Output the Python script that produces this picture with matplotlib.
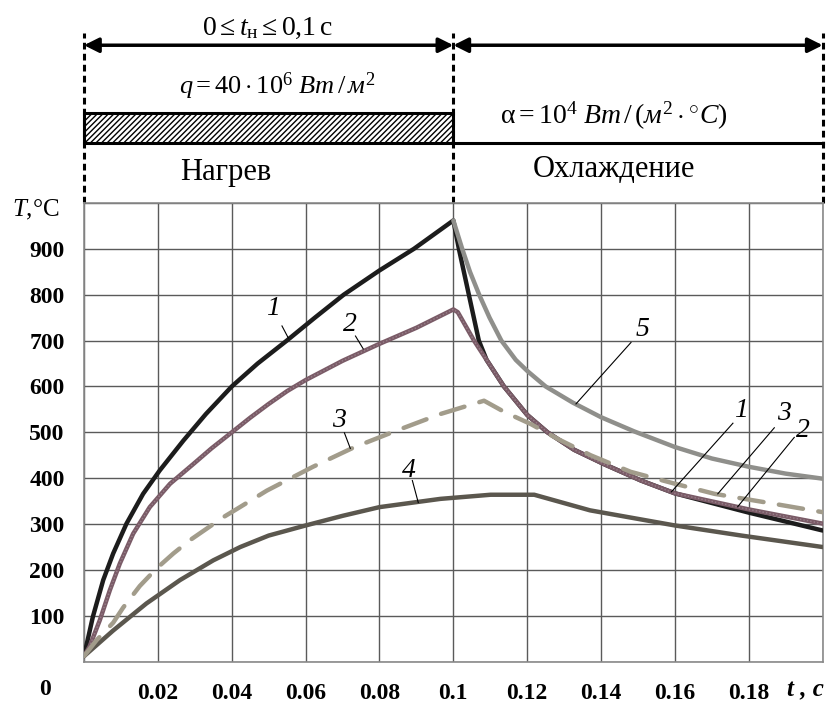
import numpy as np
import matplotlib
matplotlib.use('Agg')
from matplotlib import pyplot as plt
from matplotlib.patches import Rectangle

plt.rcParams['font.family'] = ['Liberation Serif', 'DejaVu Serif']
plt.rcParams['mathtext.fontset'] = 'custom'
plt.rcParams['mathtext.rm'] = 'Liberation Serif'
plt.rcParams['mathtext.it'] = 'Liberation Serif:italic'
plt.rcParams['mathtext.bf'] = 'Liberation Serif:bold'
plt.rcParams['hatch.linewidth'] = 1.0

# curve 1 (black)
t1 = [0, 0.0024, 0.0052, 0.0079, 0.0115, 0.016, 0.0205, 0.0269, 0.033, 0.04,
      0.047, 0.0549, 0.0625, 0.0703, 0.08, 0.0893, 0.1,
      0.1015, 0.1042, 0.1069, 0.109, 0.1137, 0.12, 0.1255, 0.1327, 0.141,
      0.1508, 0.16, 0.18, 0.2]
T1 = [12, 98, 178, 236, 301, 366, 417, 482, 540, 600,
      650, 700, 750, 800, 853, 900, 962,
      900, 800, 700, 658, 600, 538, 500, 462, 430,
      395, 367, 325, 286]

# curve 2 (purple)
t2 = [0, 0.0015, 0.0043, 0.007, 0.0097, 0.0133, 0.0178, 0.0233, 0.0296, 0.0345,
      0.04, 0.045, 0.05, 0.055, 0.06, 0.07, 0.08, 0.09, 0.1, 0.1012,
      0.1056, 0.109, 0.1137, 0.12, 0.1255, 0.1327, 0.141, 0.1508, 0.16, 0.18, 0.2]
T2 = [12, 33, 91, 156, 214, 279, 337, 388, 431, 465,
      500, 532, 562, 590, 614, 656, 693, 728, 768, 762,
      700, 658, 600, 538, 500, 462, 430, 395, 367, 332, 301]

# curve 3 (dashed)
t3 = [0, 0.0034, 0.0079, 0.0106, 0.0151, 0.0196, 0.0242, 0.0287, 0.0377, 0.0414,
      0.0495, 0.062, 0.073, 0.085, 0.0965, 0.1083, 0.1137, 0.121, 0.1282,
      0.1372, 0.148, 0.16, 0.1707, 0.187, 0.2]
T3 = [12, 47, 85, 118, 165, 203, 236, 265, 315, 333,
      373, 425, 467, 505, 540, 569, 545, 518, 486,
      450, 414, 388, 366, 344, 326]

# curve 4 (dark)
t4 = [0, 0.0079, 0.0169, 0.026, 0.035, 0.0423, 0.05, 0.06, 0.07, 0.08, 0.0965,
      0.1101, 0.1219, 0.137, 0.16, 0.178, 0.2]
T4 = [12, 68, 127, 178, 221, 250, 275, 297, 318, 337, 355,
      364, 364, 330, 297, 275, 250]

# curve 5 (gray, cooling only)
t5 = [0.1, 0.1024, 0.1045, 0.107, 0.1098, 0.113, 0.1169, 0.12, 0.125, 0.1323,
      0.14, 0.149, 0.16, 0.17, 0.18, 0.19, 0.2]
T5 = [962, 900, 850, 800, 750, 700, 658, 634, 600, 565,
      533, 502, 468, 443, 425, 410, 399]

xticks = np.round(np.arange(0, 0.201, 0.02), 2)
xlabels = ['', '0.02', '0.04', '0.06', '0.08', '0.1', '0.12', '0.14', '0.16', '0.18', '']
yticks = np.arange(0, 1001, 100)
ylabels = [''] + [str(v) for v in yticks[1:-1]] + ['']


def main():
	fig = plt.figure(figsize=(8.31, 7.02), dpi=100)
	ax = fig.add_axes([0.1011, 0.0574, 0.8889, 0.6534])

	ax.plot(t4, T4, color='#5b574e', lw=3.2, solid_capstyle='round', zorder=3)
	ax.plot(t1, T1, color='#1c1c1c', lw=3.2, solid_capstyle='round', zorder=4)
	ax.plot(t2, T2, color='#7a5b67', lw=3.2, solid_capstyle='round', zorder=5)
	ax.plot(t2, T2, color='#98808a', lw=1.0, ls=(0, (1, 1.5)), zorder=5)
	ax.plot(t3, T3, color='#a29c8b', lw=3.2, ls=(0, (5.5, 3.5)),
		dash_capstyle='round', zorder=6)
	ax.plot(t5, T5, color='#8f8f8b', lw=3.2, solid_capstyle='round', zorder=7)

	ax.set_xlim(0, 0.2)
	ax.set_ylim(0, 1000)
	ax.set_xticks(xticks)
	ax.set_xticklabels(xlabels, fontsize=17, fontweight='bold')
	ax.set_yticks(yticks)
	ax.set_yticklabels(ylabels, fontsize=17, fontweight='bold')
	ax.tick_params(length=0, pad=14)
	ax.tick_params(axis='x', pad=15)
	ax.grid(True, color='#5a5a5a', lw=1.0)
	ax.set_axisbelow(True)
	for s in ax.spines.values():
		s.set_color('#8a8a8a')
		s.set_linewidth(1.2)

	# curve labels with leader lines
	labels = [
		('1', 0.0512, 771, (0.0536, 732), (0.0553, 706)),
		('2', 0.0721, 736, (0.0735, 710), (0.0756, 682)),
		('3', 0.0689, 525, (0.0705, 499), (0.0721, 465)),
		('4', 0.0879, 417, (0.0889, 395), (0.0905, 347)),
		('5', 0.1513, 725, (0.1481, 696), (0.1332, 562)),
		('1', 0.1780, 547, (0.1757, 520), (0.1590, 370)),
		('3', 0.1896, 541, (0.1869, 510), (0.1716, 366)),
		('2', 0.1947, 504, (0.1923, 489), (0.1770, 338)),
	]
	for txt, x, y, p0, p1 in labels:
		ax.text(x, y, txt, fontsize=20, fontstyle='italic', ha='center',
			va='center', zorder=9)
		ax.plot([p0[0], p1[0]], [p0[1], p1[1]], color='black', lw=0.8, zorder=9)

	# header above the plot: x in data, y in axes fraction
	trans = ax.get_xaxis_transform()
	for xv in [0, 0.1, 0.2]:
		ax.plot([xv, xv], [1.0, 1.37], transform=trans, clip_on=False,
			color='black', lw=2.2, ls=(0, (2.2, 1.4)))
	for a, b in [(0, 0.1), (0.1, 0.2)]:
		ax.annotate('', xy=(a, 1.344), xytext=(b, 1.344), xycoords=trans,
			arrowprops=dict(arrowstyle='<|-|>', lw=2.5, color='black',
				mutation_scale=22, shrinkA=0, shrinkB=0))
	ax.add_patch(Rectangle((0, 1.130), 0.1, 0.066, transform=trans,
		facecolor='white', edgecolor='black', hatch='//////', lw=2.2,
		clip_on=False))
	ax.plot([0.1, 0.2], [1.130, 1.130], transform=trans, clip_on=False,
		color='black', lw=2.2)

	ax.text(0.0497, 1.381, r'$0 \leq t_{\mathrm{н}} \leq 0{,}1\,\mathrm{c}$',
		transform=trans, fontsize=20, ha='center', va='center')
	ax.text(0.0524, 1.255, r'$q = 40\cdot10^{6}\ Вт\,/\,м^{2}$',
		transform=trans, fontsize=19, ha='center', va='center')
	ax.text(0.0385, 1.067, 'Нагрев', transform=trans, fontsize=22,
		ha='center', va='center')
	ax.text(0.1435, 1.189, r'$\mathrm{\alpha} = 10^{4}\ Вт\,/\,(м^{2}\cdot{}^{\circ}C)$',
		transform=trans, fontsize=20, ha='center', va='center')
	ax.text(0.1436, 1.072, 'Охлаждение', transform=trans, fontsize=22,
		ha='center', va='center')

	fig.text(0.0433, 0.7009, r'$T$,°C', fontsize=18, ha='center', va='center')
	fig.text(0.0542, 0.0171, '0', fontsize=17, fontweight='bold',
		ha='center', va='center')
	fig.text(0.9687, 0.0171, 't , c', fontsize=18, fontweight='bold',
		fontstyle='italic', ha='center', va='center')

	fig.savefig('out.png', dpi=100)

if __name__ == "__main__":
	main()
